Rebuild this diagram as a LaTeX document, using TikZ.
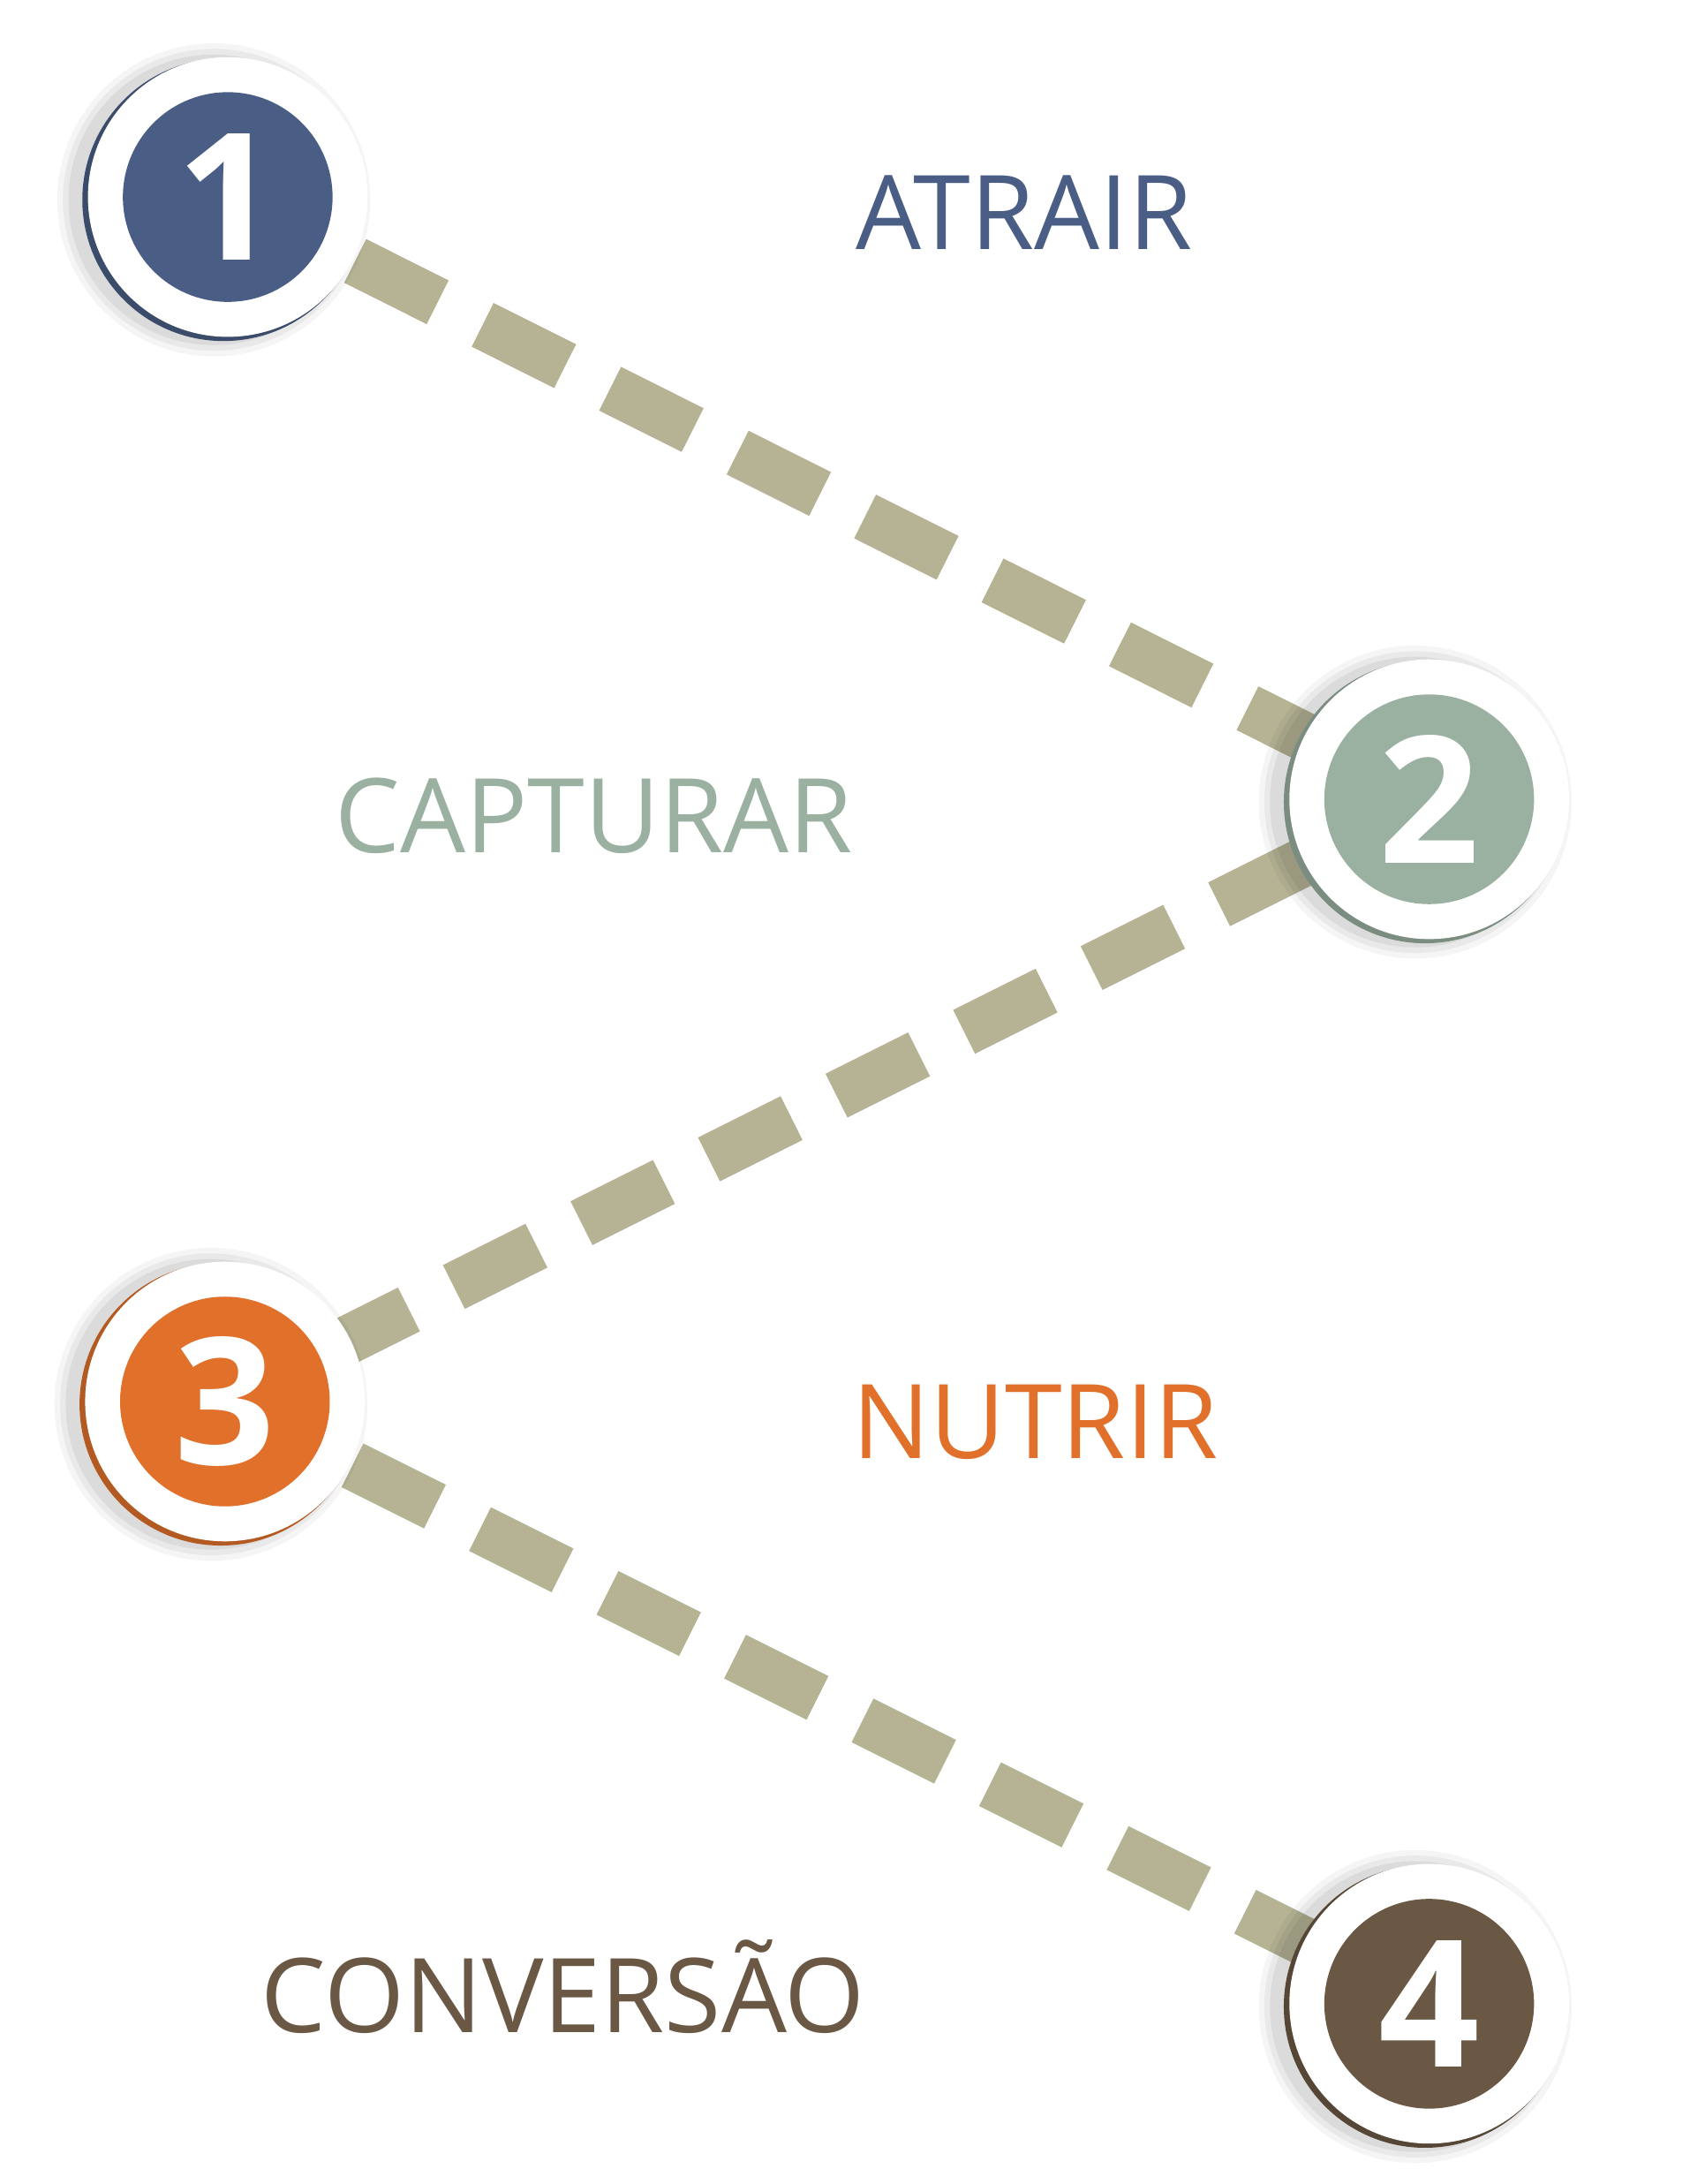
\documentclass[tikz,border=0pt]{standalone}
\usepackage{fontspec}
\setmainfont{Open Sans}
\begin{document}
\begin{tikzpicture}[x=0.01cm,y=-0.01cm,
  dashline/.style={line width=0.35cm,color=dashc,dash pattern=on 0.66cm off 0.36cm},
  lbl/.style={font=\fontsize{21}{24}\selectfont},
  num/.style={font=\fontsize{36}{40}\bfseries\selectfont,text=white}]
\definecolor{dashc}{HTML}{B5B394}
\definecolor{cA}{HTML}{4A5E85}
\definecolor{cB}{HTML}{9AB0A0}
\definecolor{cC}{HTML}{E0702A}
\definecolor{cD}{HTML}{6B5844}
\useasboundingbox (0,0) rectangle (1220,1563);
\coordinate (p1) at (163,141);
\coordinate (p2) at (1023,572);
\coordinate (p3) at (161,1003);
\coordinate (p4) at (1023,1434);
\draw[dashline] (p1) -- (p2);
\draw[dashline] (p2) -- (p3);
\draw[dashline] (p3) -- (p4);
\foreach \p/\c/\n in {p1/cA/1,p2/cB/2,p3/cC/3,p4/cD/4}{
  \foreach \r/\o in {112/0.04,108/0.05,104/0.06}{
    \fill[black,opacity=\o] ([xshift=-0.1cm,yshift=-0.02cm]\p) circle[radius=\r*0.01cm];}
  \fill[\c!80!black] ([xshift=-0.03cm,yshift=-0.02cm]\p) circle[radius=1.01cm];
  \fill[white] (\p) circle[radius=1.0cm];
  \node[circle,fill=\c,minimum size=1.5cm,inner sep=0pt,num] (n\n) at (\p) {\n};
}
\node[lbl,text=cA] (t1) at (733,152) {ATRAIR};
\node[lbl,text=cB] (t2) at (425,584) {CAPTURAR};
\node[lbl,text=cC] (t3) at (741,1018) {NUTRIR};
\node[lbl,text=cD] (t4) at (403,1422) {CONVERSÃO};
\end{tikzpicture}
\end{document}
